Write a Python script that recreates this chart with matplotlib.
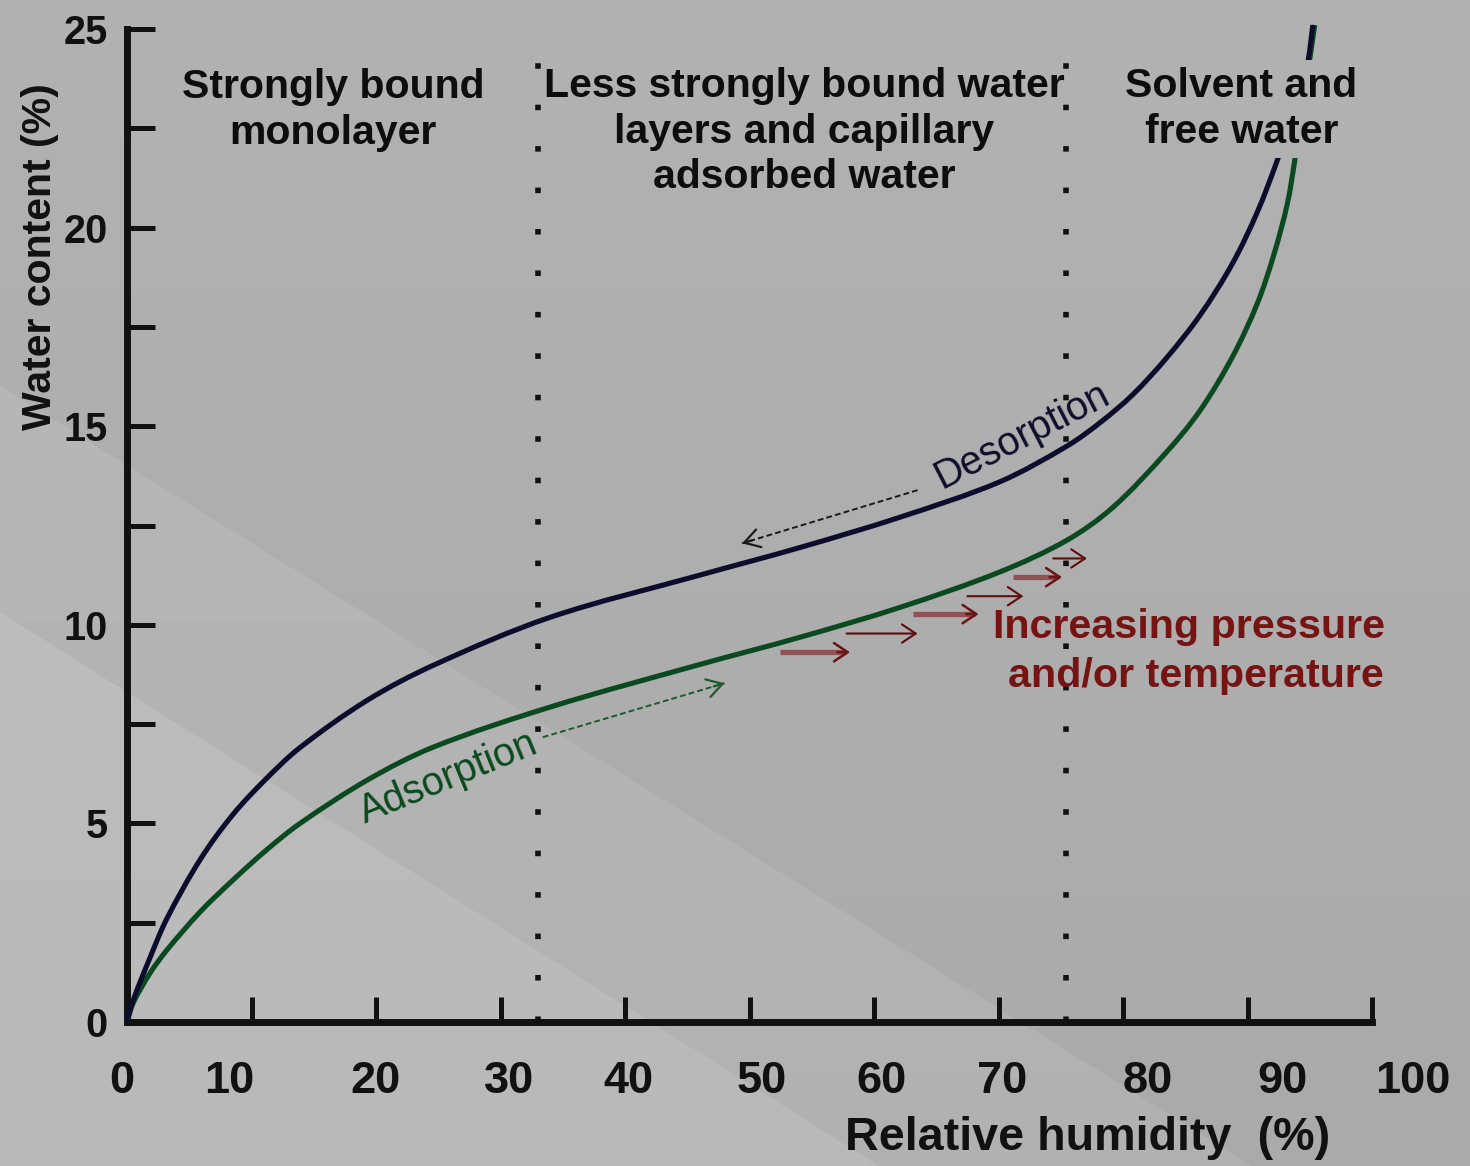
import numpy as np
import matplotlib
matplotlib.use("Agg")
import matplotlib.pyplot as plt
from matplotlib.path import Path
from matplotlib.patches import PathPatch
from matplotlib.transforms import blended_transform_factory

# ---------------- data ----------------
desorption_rh = [0, 0.5, 1.85, 3.2, 5.9, 8.5, 11.2, 13.9, 19.3, 24.6, 34.0, 46.0, 54.1,
                 62.1, 70.1, 75.5, 78.2, 80.8, 83.5, 86.2, 88.8, 90.8, 92.4, 93.7, 94.8, 95.25]
desorption_wc = [0, 0.55, 1.62, 2.6, 4.1, 5.22, 6.13, 6.91, 8.10, 8.98, 10.19, 11.25, 11.95,
                 12.71, 13.6, 14.5, 15.1, 15.8, 16.72, 17.8, 19.1, 20.4, 21.7, 22.9, 24.1, 25.1]

adsorption_rh = [0, 0.5, 1.85, 3.2, 5.9, 8.5, 11.2, 13.9, 19.3, 24.6, 34.0, 46.0, 54.1,
                 62.1, 70.1, 75.5, 79.2, 83.5, 86.2, 88.8, 90.8, 92.1, 93.2, 93.8, 94.6, 95.4]
adsorption_wc = [0, 0.48, 1.23, 1.81, 2.78, 3.57, 4.33, 5.0, 6.09, 6.92, 7.93, 9.0, 9.69,
                 10.44, 11.33, 12.13, 12.96, 14.35, 15.4, 16.75, 18.1, 19.3, 20.6, 21.7, 23.4, 25.1]

x_ticks = [0, 10, 20, 30, 40, 50, 60, 70, 80, 90, 100]
x_tick_labels = ["0", "10", "20", "30", "40", "50", "60", "70", "80", "90", "100"]
x_label_pos = [-0.4, 8.2, 20.0, 30.7, 40.3, 51.0, 60.6, 70.3, 82.0, 92.8, 103.3]
y_major = [0, 5, 10, 15, 20, 25]
y_minor = [2.5, 7.5, 12.5, 17.5, 22.5]

region_bounds = [33.0, 75.4]

press_x0 = [52.45, 57.8, 63.1, 67.5, 71.2, 74.4]
press_x1 = [58.07, 63.5, 68.4, 72.0, 75.1, 77.1]
press_y = [9.31, 9.78, 10.27, 10.72, 11.2, 11.67]

# ---------------- figure ----------------
W, H = 1470, 1166
plt.rcParams["font.family"] = ["Liberation Sans", "DejaVu Sans"]
plt.rcParams["font.weight"] = "bold"

fig = plt.figure(figsize=(W / 100, H / 100), dpi=100)


def bg_value(px, py):
    v = 0.665 + 0.03 * (1 - py / H)
    v = v + np.where(py > 386 + 0.623 * px, 0.028, 0.0)
    v = v + np.where(py > 612 + 0.63 * px, 0.03, 0.0)
    return v


yy, xx = np.mgrid[0:H, 0:W]
bgimg = bg_value(xx, yy)
bgax = fig.add_axes([0, 0, 1, 1], zorder=-10)
bgax.imshow(bgimg, cmap="gray", vmin=0, vmax=1, aspect="auto", interpolation="nearest")
bgax.axis("off")

ax = fig.add_axes([127 / W, 1 - 1022 / H, (1372 - 127) / W, (1022 - 29) / H])
ax.set_facecolor("none")
ax.set_xlim(0, 100)
ax.set_ylim(0, 25)
for s in ["top", "right"]:
    ax.spines[s].set_visible(False)
for s in ["left", "bottom"]:
    ax.spines[s].set_linewidth(5)
    ax.spines[s].set_color("#111111")

ax.set_xticks(x_ticks)
ax.tick_params(axis="x", direction="in", length=18, width=3.6, color="#111111",
               labelbottom=False)
ax.set_yticks(y_major)
ax.set_yticks(y_minor, minor=True)
ax.set_yticklabels([str(v) for v in y_major])
ax.tick_params(axis="y", which="both", direction="in", length=20, width=3.6,
               color="#111111", pad=14, labelsize=28.5, labelcolor="#111111")

trans = blended_transform_factory(ax.transData, ax.transAxes)
for pos, lab in zip(x_label_pos, x_tick_labels):
    ax.text(pos, -0.0715, lab, transform=trans, ha="center", va="baseline",
            fontsize=32.5, fontweight="bold", color="#111111", clip_on=False)

# region boundaries (dotted)
for xb in region_bounds:
    ax.plot([xb, xb], [0, 25], color="#111111", lw=4, ls=(0, (1, 6.46)),
            dash_capstyle="butt", zorder=2, clip_on=False)


# smooth curve through the read points (Bezier path through every data point)
def smooth_path(xs, ys):
    P = np.column_stack([xs, ys]).astype(float)
    scale = np.array([12.45, 39.72])  # approx pixels per data unit, for chord lengths
    d = np.sqrt((((P[1:] - P[:-1]) * scale) ** 2).sum(axis=1))
    t = np.concatenate([[0], np.cumsum(d)])
    n = len(P)
    m = np.zeros_like(P)
    m[0] = (P[1] - P[0]) / (t[1] - t[0])
    m[-1] = (P[-1] - P[-2]) / (t[-1] - t[-2])
    for i in range(1, n - 1):
        m[i] = (P[i + 1] - P[i - 1]) / (t[i + 1] - t[i - 1])
    verts = [P[0]]
    codes = [Path.MOVETO]
    for i in range(n - 1):
        dt = t[i + 1] - t[i]
        verts += [P[i] + m[i] * dt / 3, P[i + 1] - m[i + 1] * dt / 3, P[i + 1]]
        codes += [Path.CURVE4] * 3
    return Path(np.array(verts), codes)


for xs, ys, col in [(adsorption_rh, adsorption_wc, "#0b4a20"),
                    (desorption_rh, desorption_wc, "#0c0c2c")]:
    patch = PathPatch(smooth_path(xs, ys), transform=ax.transData, fc="none", ec=col,
                      lw=3.7, zorder=3, clip_on=False)
    ax.add_patch(patch)


# region labels
def ypix(p):
    return (1022 - p) / 39.72


def xpix(p):
    return (p - 127) / 12.45


tkw = dict(ha="center", va="baseline", fontsize=29.5, fontweight="bold", color="#0d0d0d")
ax.text(xpix(333), ypix(98), "Strongly bound", **tkw)
ax.text(xpix(333), ypix(144), "monolayer", **tkw)
ax.text(xpix(804), ypix(97), "Less strongly bound water", **tkw)
ax.text(xpix(804), ypix(143), "layers and capillary", **tkw)
ax.text(xpix(804), ypix(188), "adsorbed water", **tkw)
bgc = str(float(bg_value(1240, 110)))
bkw = dict(boxstyle="square,pad=0.18", fc=bgc, ec="none")
ax.text(xpix(1241), ypix(97), "Solvent and", bbox=bkw, zorder=5, **tkw)
ax.text(xpix(1242), ypix(143), "free water", bbox=bkw, zorder=5, **tkw)

# red text
rkw = dict(ha="right", va="baseline", fontsize=29.7, fontweight="bold", color="#761414",
           clip_on=False)
ax.text(xpix(1385), ypix(638), "Increasing pressure", **rkw)
ax.text(xpix(1384), ypix(687), "and/or temperature", **rkw)

# curve labels
ax.text(71.9, 14.77, "Desorption", rotation=27.2, ha="center", va="center",
        fontsize=28.5, fontweight="normal", color="#0e0e2a", rotation_mode="anchor")
ax.text(25.8, 6.14, "Adsorption", rotation=22.2, ha="center", va="center",
        fontsize=28.5, fontweight="normal", color="#0a4a1c", rotation_mode="anchor")


def dashed_arrow(tail, head, color):
    ax.plot([tail[0], head[0]], [tail[1], head[1]], color=color, lw=1.4,
            ls=(0, (3, 1.6)), zorder=4)
    near = (head[0] + 0.06 * (tail[0] - head[0]), head[1] + 0.06 * (tail[1] - head[1]))
    ax.annotate("", xy=head, xytext=near,
                arrowprops=dict(arrowstyle="->,head_length=0.5,head_width=0.3",
                                color=color, lw=1.6, mutation_scale=22,
                                shrinkA=0, shrinkB=0), zorder=4)


dashed_arrow((63.5, 13.39), (49.4, 12.05), "#1a1a1a")
dashed_arrow((33.4, 7.17), (48.0, 8.53), "#1d5a2d")

# pressure / temperature arrows
for i, (x0, x1, yv) in enumerate(zip(press_x0, press_x1, press_y)):
    if i % 2 == 0:
        ax.plot([x0, x1 - 0.3], [yv, yv], color="#8f5353", lw=3.8, zorder=4,
                solid_capstyle="butt")
        ax.annotate("", xy=(x1, yv), xytext=(x1 - 1.0, yv),
                    arrowprops=dict(arrowstyle="->,head_length=0.45,head_width=0.3",
                                    color="#6a1414", lw=1.8, mutation_scale=22,
                                    shrinkA=0, shrinkB=0), zorder=4)
    else:
        ax.annotate("", xy=(x1, yv), xytext=(x0, yv),
                    arrowprops=dict(arrowstyle="->,head_length=0.45,head_width=0.3",
                                    color="#5e0c0c", lw=1.5, mutation_scale=22,
                                    shrinkA=0, shrinkB=0), zorder=4)

# axis labels
fig.text(40 / W, 1 - 257 / H, "Water content (%)", rotation=90, ha="center", va="center",
         fontsize=29.5, fontweight="bold", color="#111111")
fig.text(1088 / W, 1 - 1150 / H, "Relative humidity  (%)", ha="center", va="baseline",
         fontsize=33.7, fontweight="bold", color="#111111")

fig.savefig("out.png", dpi=100)
